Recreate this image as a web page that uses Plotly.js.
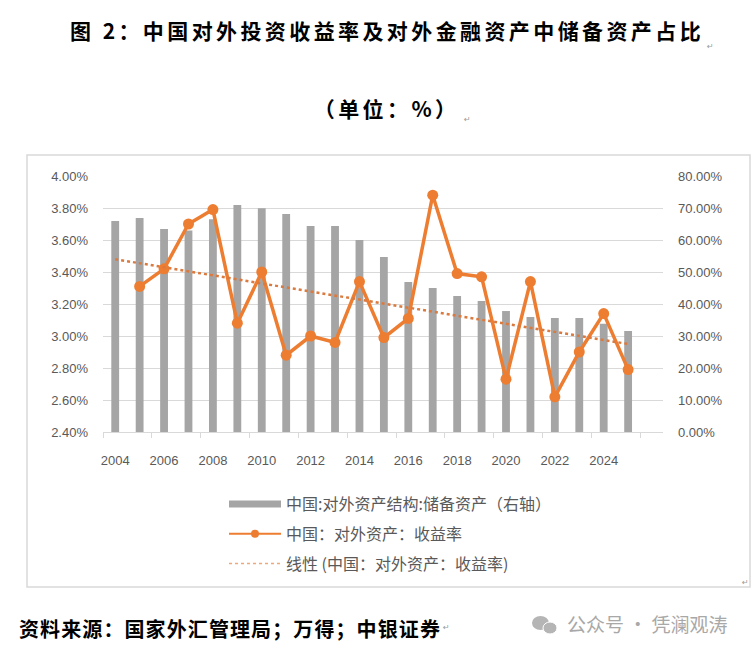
<!DOCTYPE html>
<html>
<head>
<meta charset="utf-8">
<script src="https://cdn.plot.ly/plotly-3.0.1.min.js"></script>
<style>
  html, body { margin: 0; padding: 0; background: #fff; }
  #chart { width: 754px; height: 655px; }
</style>
</head>
<body>
<div id="chart"></div>
<script>
// years on the category axis
const years = ["2004", "2005", "2006", "2007", "2008", "2009", "2010", "2011", "2012", "2013", "2014",
               "2015", "2016", "2017", "2018", "2019", "2020", "2021", "2022", "2023", "2024", "2025"];

// reserve assets share of external financial assets (%), right axis
const reserveShare = [65.9, 66.9, 63.4, 63.0, 66.5, 70.9, 69.9, 68.1, 64.4, 64.4, 60.0,
                      54.7, 46.9, 45.0, 42.5, 40.9, 37.8, 35.9, 35.6, 35.6, 33.8, 31.6];

// return on external assets (%), left axis, starts 2005
const returnYears = years.slice(1);
const returnRate = [3.31, 3.42, 3.70, 3.79, 3.08, 3.40, 2.88, 3.00, 2.96, 3.34,
                    2.99, 3.11, 3.88, 3.39, 3.37, 2.73, 3.34, 2.62, 2.90, 3.14, 2.79];

// linear trend of the return rate, end points
const trendYears = ["2004", "2025"];
const trendValues = [3.48, 2.95];

const W = 754, H = 655;
const M = { l: 103, r: 91, t: 176, b: 223 };
const pw = W - M.l - M.r, ph = H - M.t - M.b;
// page pixels -> paper coords
const px = x => (x - M.l) / pw;
const py = y => (H - M.b - y) / ph;

const grey = "#595959";
const orange = "#ED7D31";
const barGrey = "#A5A5A5";

const traces = [
  {
    type: "bar",
    x: years,
    y: reserveShare,
    showlegend: false,
    marker: { color: barGrey },
    yaxis: "y"
  },
  {
    type: "scatter",
    mode: "lines+markers",
    x: returnYears,
    y: returnRate,
    showlegend: false,
    line: { color: orange, width: 3.5 },
    marker: { color: orange, size: 11 },
    yaxis: "y2"
  },
  {
    type: "scatter",
    mode: "lines",
    x: trendYears,
    y: trendValues,
    showlegend: false,
    line: { color: "#DB7A3E", width: 2.5, dash: "dot" },
    yaxis: "y2"
  },
  // legend-only entries, drawn thinner like the Excel legend
  {
    type: "scatter", mode: "lines", x: [null], y: [null],
    name: "中国:对外资产结构:储备资产（右轴）", legendgroup: "a",
    line: { color: barGrey, width: 7 }
  },
  {
    type: "scatter", mode: "lines+markers", x: [null], y: [null],
    name: "中国：对外资产：收益率", legendgroup: "b",
    line: { color: orange, width: 2 },
    marker: { color: orange, size: 8 }
  },
  {
    type: "scatter", mode: "lines", x: [null], y: [null],
    name: "线性 (中国：对外资产：收益率)", legendgroup: "c",
    line: { color: "#EFA878", width: 1.3, dash: "dot" }
  }
];

function note(text, x, y, size, opts) {
  return Object.assign({
    text: text, xref: "paper", yref: "paper", x: px(x), y: py(y),
    showarrow: false, font: { family: "Noto Sans CJK SC", size: size, color: "#000" }
  }, opts || {});
}

const mark = { family: "DejaVu Sans", size: 8, color: "#999" };

const layout = {
  width: W, height: H,
  margin: M,
  paper_bgcolor: "#fff",
  plot_bgcolor: "rgba(0,0,0,0)",
  font: { family: "Liberation Sans, Noto Sans CJK SC", color: grey, size: 13 },
  showlegend: true,
  bargap: 0.68,
  xaxis: {
    type: "category",
    categoryarray: years,
    dtick: 2,
    tickangle: 0,
    tickson: "boundaries",
    ticks: "outside",
    ticklen: 5,
    tickcolor: "#D9D9D9",
    showline: true,
    linecolor: "#D9D9D9",
    linewidth: 1,
    showgrid: false,
    ticklabelstandoff: 16,
    tickfont: { family: "Liberation Sans", size: 13, color: grey }
  },
  yaxis: {
    side: "right",
    range: [0, 80],
    dtick: 10,
    tickformat: ".2f",
    ticksuffix: "%",
    showgrid: true,
    gridcolor: "#D9D9D9",
    zeroline: false,
    ticklabelstandoff: 14,
    tickfont: { family: "Liberation Sans", size: 13, color: grey }
  },
  yaxis2: {
    side: "left",
    overlaying: "y",
    range: [2.4, 4.0],
    dtick: 0.2,
    tickformat: ".2f",
    ticksuffix: "%",
    showgrid: false,
    zeroline: false,
    ticklabelstandoff: 14,
    tickfont: { family: "Liberation Sans", size: 13, color: grey }
  },
  legend: {
    x: px(224), y: py(487),
    xanchor: "left", yanchor: "top",
    orientation: "v",
    itemwidth: 52,
    tracegroupgap: 6,
    bgcolor: "rgba(0,0,0,0)",
    font: { family: "Noto Sans CJK SC", size: 16, color: grey }
  },
  shapes: [
    {
      type: "rect", xref: "paper", yref: "paper",
      x0: px(27), x1: px(750), y0: py(587), y1: py(155),
      line: { color: "#D9D9D9", width: 1.5 }, fillcolor: "rgba(0,0,0,0)", layer: "below"
    },
    // wechat badge of the watermark
    {
      type: "circle", xref: "paper", yref: "paper",
      x0: px(532), x1: px(549), y0: py(630), y1: py(616),
      line: { width: 0 }, fillcolor: "#B5B5B5"
    },
    {
      type: "circle", xref: "paper", yref: "paper",
      x0: px(543), x1: px(557), y0: py(634), y1: py(622),
      line: { color: "#fff", width: 1 }, fillcolor: "#B5B5B5"
    }
  ],
  annotations: [
    note("<b>图 2：中国对外投资收益率及对外金融资产中储备资产占比</b>", 387, 30, 21,
         { xanchor: "center", yanchor: "middle" }),
    note("↵", 716, 40, 8, { font: mark }),
    note("<b>（单位：%）</b>", 386, 108, 21, { xanchor: "center", yanchor: "middle" }),
    note("↵", 467, 113, 8, { font: mark }),
    note("<b>资料来源：国家外汇管理局；万得；中银证券</b>", 28, 628, 20,
         { xanchor: "left", yanchor: "middle" }),
    note("↵", 446, 634, 8, { font: mark }),
    note("公众号 · 凭澜观涛", 565, 623, 19,
         { xanchor: "left", yanchor: "middle", font: { family: "Noto Sans CJK SC", size: 19, color: "#A8A8A8" } }),
    note("↵", 751, 589, 8, { font: mark })
  ]
};

Plotly.newPlot("chart", traces, layout, { displayModeBar: false, staticPlot: true }).then(() => {
  // Word-style spacing on the heading and source lines
  document.querySelectorAll(".annotation-text").forEach(t => {
    const s = t.textContent;
    if (s.indexOf("图 2") === 0 || s.indexOf("（单位") === 0) t.style.letterSpacing = "3.4px";
    if (s.indexOf("资料来源") === 0) t.style.letterSpacing = "1.1px";
  });
});
</script>
</body>
</html>
